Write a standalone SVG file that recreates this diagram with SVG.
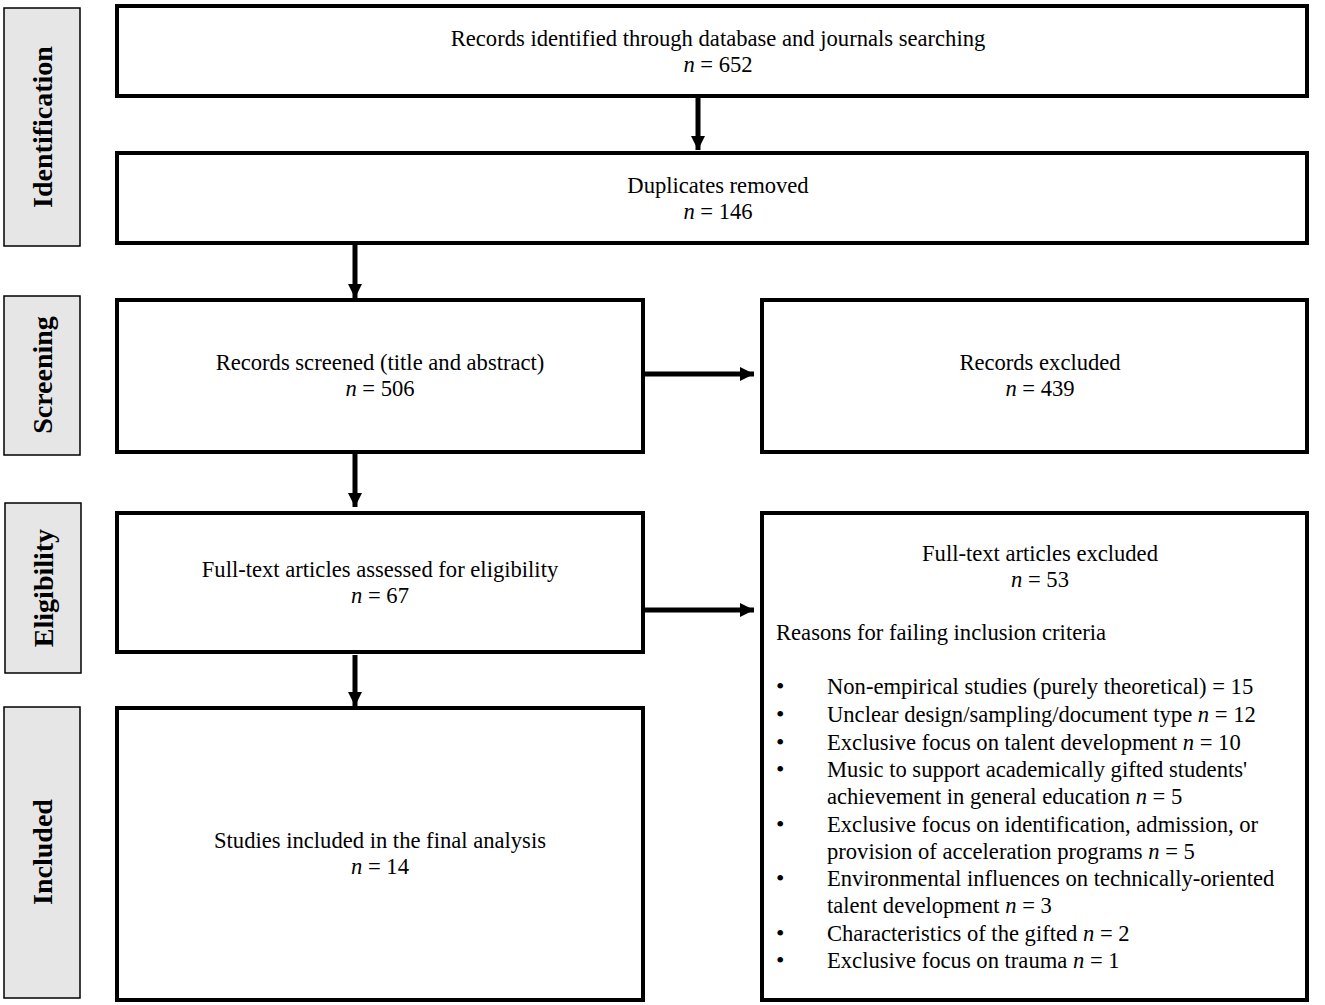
<svg xmlns="http://www.w3.org/2000/svg" width="1325" height="1005" viewBox="0 0 1325 1005">
<style>
.box{fill:#fff;stroke:#000;stroke-width:4}
.side{fill:#e6e6e6;stroke:#000;stroke-width:1.5}
.t{font-family:"Liberation Serif","Times New Roman",serif;font-size:22.6px;fill:#000}
.c{text-anchor:middle}
.b{font-size:24px}
.lab{font-family:"Liberation Serif","Times New Roman",serif;font-size:28px;font-weight:bold;text-anchor:middle;fill:#000}
.ar{stroke:#000;stroke-width:5;fill:none;marker-end:url(#ah)}
</style>
<defs>
<marker id="ah" markerUnits="userSpaceOnUse" markerWidth="16" markerHeight="16" viewBox="0 0 16 16" refX="14" refY="8" orient="auto">
<path d="M0,1 L14,8 L0,15 Z" fill="#000"/>
</marker>
</defs>
<rect width="1325" height="1005" fill="#fff"/>
<g id="label-identification"><rect class="side" x="4" y="8" width="76" height="238"/><text class="lab" transform="translate(52,127) rotate(-90)">Identification</text></g>
<g id="label-screening"><rect class="side" x="4" y="296" width="76" height="159"/><text class="lab" transform="translate(52,375) rotate(-90)">Screening</text></g>
<g id="label-eligibility"><rect class="side" x="5" y="503" width="76" height="170"/><text class="lab" transform="translate(53,588) rotate(-90)">Eligibility</text></g>
<g id="label-included"><rect class="side" x="4" y="707" width="76" height="291"/><text class="lab" transform="translate(52,852) rotate(-90)">Included</text></g>

<g id="identified"><rect class="box" x="117" y="6" width="1190" height="90"/>
<text class="t c" x="718" y="46">Records identified through database and journals searching</text>
<text class="t c" x="718" y="72"><tspan font-style="italic">n</tspan> = 652</text></g>

<g id="duplicates"><rect class="box" x="117" y="153" width="1190" height="90"/>
<text class="t c" x="718" y="193">Duplicates removed</text>
<text class="t c" x="718" y="219"><tspan font-style="italic">n</tspan> = 146</text></g>

<g id="screened"><rect class="box" x="117" y="300" width="526" height="152"/>
<text class="t c" x="380" y="370">Records screened (title and abstract)</text>
<text class="t c" x="380" y="396"><tspan font-style="italic">n</tspan> = 506</text></g>

<g id="excluded"><rect class="box" x="762" y="300" width="545" height="152"/>
<text class="t c" x="1040" y="370">Records excluded</text>
<text class="t c" x="1040" y="396"><tspan font-style="italic">n</tspan> = 439</text></g>

<g id="assessed"><rect class="box" x="117" y="513" width="526" height="139"/>
<text class="t c" x="380" y="577">Full-text articles assessed for eligibility</text>
<text class="t c" x="380" y="603"><tspan font-style="italic">n</tspan> = 67</text></g>

<g id="included"><rect class="box" x="117" y="708" width="526" height="292"/>
<text class="t c" x="380" y="848">Studies included in the final analysis</text>
<text class="t c" x="380" y="874"><tspan font-style="italic">n</tspan> = 14</text></g>

<g id="fulltext-excluded"><rect class="box" x="762" y="513" width="545" height="487"/>
<text class="t c" x="1040" y="561">Full-text articles excluded</text>
<text class="t c" x="1040" y="587"><tspan font-style="italic">n</tspan> = 53</text>
<text class="t" x="776" y="640">Reasons for failing inclusion criteria</text>
<g class="t">
<text class="b" x="776" y="694">•</text><text x="827" y="694">Non-empirical studies (purely theoretical) = 15</text>
<text class="b" x="776" y="722">•</text><text x="827" y="722">Unclear design/sampling/document type <tspan font-style="italic">n</tspan> = 12</text>
<text class="b" x="776" y="750">•</text><text x="827" y="750">Exclusive focus on talent development <tspan font-style="italic">n</tspan> = 10</text>
<text class="b" x="776" y="777">•</text><text x="827" y="777">Music to support academically gifted students'</text>
<text x="827" y="804">achievement in general education <tspan font-style="italic">n</tspan> = 5</text>
<text class="b" x="776" y="832">•</text><text x="827" y="832">Exclusive focus on identification, admission, or</text>
<text x="827" y="859">provision of acceleration programs <tspan font-style="italic">n</tspan> = 5</text>
<text class="b" x="776" y="886">•</text><text x="827" y="886">Environmental influences on technically-oriented</text>
<text x="827" y="913">talent development <tspan font-style="italic">n</tspan> = 3</text>
<text class="b" x="776" y="941">•</text><text x="827" y="941">Characteristics of the gifted <tspan font-style="italic">n</tspan> = 2</text>
<text class="b" x="776" y="968">•</text><text x="827" y="968">Exclusive focus on trauma <tspan font-style="italic">n</tspan> = 1</text>
</g></g>

<g id="connectors">
<line class="ar" x1="698" y1="98" x2="698" y2="150"/>
<line class="ar" x1="355" y1="245" x2="355" y2="298"/>
<line class="ar" x1="355" y1="454" x2="355" y2="507"/>
<line class="ar" x1="355" y1="655" x2="355" y2="706"/>
<line class="ar" x1="645" y1="374" x2="754" y2="374"/>
<line class="ar" x1="645" y1="610" x2="754" y2="610"/>
</g>
</svg>
